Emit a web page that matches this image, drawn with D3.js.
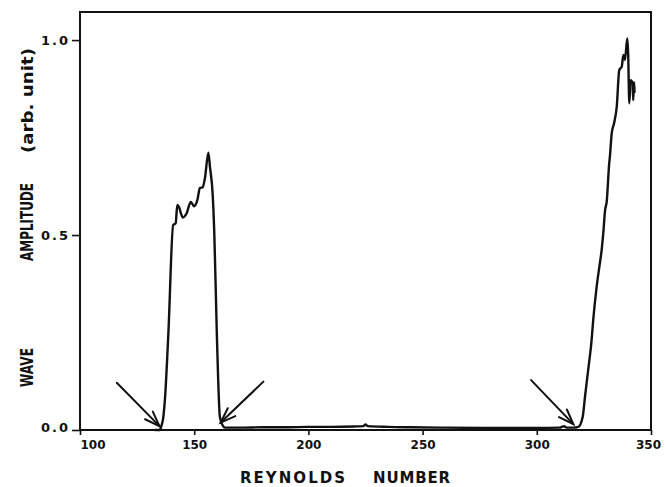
<!DOCTYPE html>
<html>
<head>
<meta charset="utf-8">
<script src="https://cdn.jsdelivr.net/npm/d3@7/dist/d3.min.js"></script>
<style>
  html, body { margin: 0; padding: 0; background: #fff; }
  svg { display: block; }
  text { font-family: "DejaVu Sans", sans-serif; font-weight: bold; fill: #111; }
</style>
</head>
<body>
<svg id="chart" width="666" height="487"></svg>
<script>
// ---- data ----
const reynolds = [
  133, 135, 135.6, 136.4, 137.2, 138.7, 140.8, 141.9, 142.6, 143.3, 145.0, 146.7, 148.5, 149.9,
  151.4, 152.5, 153.7, 154.7, 156.2, 156.9, 158.1, 158.8, 159.9, 161.3, 163.5,
  170, 180, 190, 200, 210, 220, 224, 225, 226, 235, 245, 260, 280, 300, 310, 312, 313, 316,
  318.2, 320.1, 321.1, 322.5, 324.0, 324.7, 326.2, 327.4, 328.4, 329.1, 329.9, 330.6,
  331.7, 332.0, 332.8, 333.8, 335.0, 336.1, 337.2, 337.9, 338.6, 339.6, 340.0, 340.5,
  341.1, 342.0, 342.2, 342.6, 342.8
];
const amplitude = [
  0, 0, 0.01, 0.03, 0.08, 0.249, 0.526, 0.530, 0.577, 0.572, 0.545, 0.556, 0.585, 0.574,
  0.590, 0.621, 0.622, 0.646, 0.711, 0.675, 0.603, 0.505, 0.249, 0.031, 0.006,
  0.006, 0.007, 0.007, 0.008, 0.008, 0.009, 0.010, 0.014, 0.010, 0.008, 0.007, 0.006, 0.005, 0.005, 0.006, 0.010, 0.006, 0.006,
  0.008, 0.034, 0.085, 0.154, 0.231, 0.282, 0.367, 0.419, 0.462, 0.504, 0.564, 0.585,
  0.684, 0.701, 0.761, 0.786, 0.829, 0.923, 0.932, 0.962, 0.949, 1.004, 0.966, 0.838,
  0.897, 0.889, 0.846, 0.892, 0.867
];
const xTicks = [100, 150, 200, 250, 300, 350];
const yTicks = [0.0, 0.5, 1.0];
const yTickLabels = ["0.0", "0.5", "1.0"];
// arrows: tail (Re, amp) -> tip (Re, amp)
const arrowTailRe  = [116.1, 180.3, 297.5];
const arrowTailAmp = [0.121, 0.124, 0.128];
const arrowTipRe   = [134.8, 161.6, 316.0];
const arrowTipAmp  = [0.010, 0.019, 0.015];

// ---- layout ----
const W = 666, H = 487;
const margin = { left: 80, right: 15, top: 12, bottom: 57 };
const svg = d3.select("#chart");
const x = d3.scaleLinear().domain([100, 350]).range([margin.left, W - margin.right]);
const y = d3.scaleLinear().domain([0, 1.072]).range([H - margin.bottom, margin.top]);

const ink = "#111";

// frame
svg.append("rect")
  .attr("x", x(100)).attr("y", y(1.072))
  .attr("width", x(350) - x(100)).attr("height", y(0) - y(1.072))
  .attr("fill", "none").attr("stroke", ink).attr("stroke-width", 2);

// x axis
const xAxis = svg.append("g")
  .attr("transform", `translate(0,${y(0)})`)
  .call(d3.axisBottom(x).tickValues(xTicks).tickFormat(d3.format("d")).tickSize(5).tickPadding(5));
xAxis.select(".domain").remove();
xAxis.selectAll("line").attr("stroke", ink).attr("stroke-width", 1.6);
xAxis.selectAll("text").attr("font-size", 12).attr("fill", ink).style("font-family", '"DejaVu Sans", sans-serif').style("font-weight", "bold");
xAxis.selectAll(".tick").filter(d => d === 100).select("text").attr("text-anchor", "start");
xAxis.selectAll(".tick").filter(d => d === 350).select("text").attr("dx", -3);

// y axis
const yAxis = svg.append("g")
  .attr("transform", `translate(${x(100)},0)`)
  .call(d3.axisLeft(y).tickValues(yTicks).tickFormat((d, i) => yTickLabels[i]).tickSize(8).tickPadding(2));
yAxis.select(".domain").remove();
yAxis.selectAll("line").attr("stroke", ink).attr("stroke-width", 1.6);
yAxis.selectAll("text").attr("font-size", 13).attr("fill", ink).attr("letter-spacing", 2)
  .style("font-family", '"DejaVu Sans", sans-serif').style("font-weight", "bold");
yAxis.selectAll(".tick").filter(d => d === 0).select("text").attr("dy", "0.1em");

// data line
const pts = reynolds.map((r, i) => [r, amplitude[i]]);
svg.append("path")
  .datum(pts)
  .attr("fill", "none").attr("stroke", ink).attr("stroke-width", 2.4)
  .attr("stroke-linejoin", "round").attr("stroke-linecap", "round")
  .attr("d", d3.line().curve(d3.curveMonotoneX).x(d => x(d[0])).y(d => y(d[1])));

// arrows
const headLen = 16, headAng = 20 * Math.PI / 180;
arrowTailRe.forEach((tr, i) => {
  const x0 = x(tr), y0 = y(arrowTailAmp[i]);
  const x1 = x(arrowTipRe[i]), y1 = y(arrowTipAmp[i]);
  const back = Math.atan2(y0 - y1, x0 - x1);
  const g = svg.append("g").attr("stroke", ink).attr("stroke-width", 2).attr("stroke-linecap", "round").attr("fill", "none");
  g.append("line").attr("x1", x0).attr("y1", y0).attr("x2", x1).attr("y2", y1);
  g.append("path").attr("d",
    `M${x1 + headLen * Math.cos(back + headAng)},${y1 + headLen * Math.sin(back + headAng)}` +
    `L${x1},${y1}` +
    `L${x1 + headLen * Math.cos(back - headAng)},${y1 + headLen * Math.sin(back - headAng)}`);
});

// x axis title
const xt = svg.append("g");
xt.append("text").attr("x", 240).attr("y", 483).attr("font-size", 15)
  .attr("textLength", 105).attr("lengthAdjust", "spacing").text("REYNOLDS");
xt.append("text").attr("x", 373).attr("y", 483).attr("font-size", 15)
  .attr("textLength", 77).attr("lengthAdjust", "spacing").text("NUMBER");

// y axis title (rotated, reading upward)
const ytitle = [
  { t: "WAVE", start: 387, len: 39, fs: 17 },
  { t: "AMPLITUDE", start: 261, len: 78, fs: 17 },
  { t: "(arb. unit)", start: 153, len: 105, fs: 16 }
];
ytitle.forEach(p => {
  svg.append("text")
    .attr("transform", `translate(33,${p.start}) rotate(-90)`)
    .attr("font-size", p.fs)
    .attr("textLength", p.len).attr("lengthAdjust", "spacingAndGlyphs")
    .text(p.t);
});
</script>
</body>
</html>
